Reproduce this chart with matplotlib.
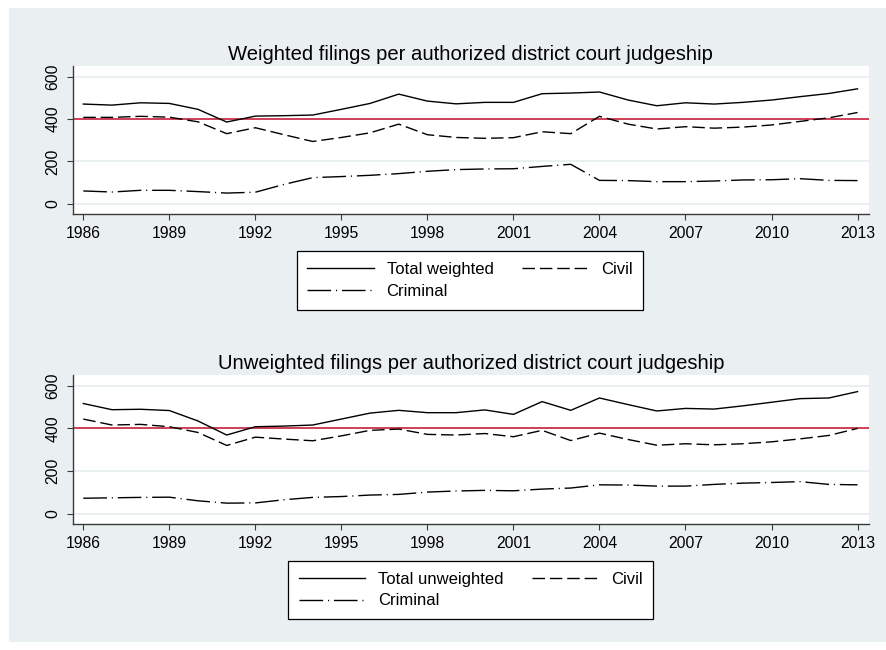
"""
Weighted and unweighted filings per authorized district court judgeship, 1986-2013.
"""

import matplotlib as mpl
import matplotlib.pyplot as plt
from matplotlib.patches import Rectangle

mpl.rcParams.update(
    {
        "font.family": ["Liberation Sans", "DejaVu Sans"],
        "font.size": 11,
        "axes.linewidth": 1.0,
        "xtick.major.size": 4,
        "ytick.major.size": 4,
        "xtick.direction": "out",
        "ytick.direction": "out",
    }
)

BG = "#EAF0F2"
GRID = "#E6EEF0"
AXIS = "#3A3A3A"
RED = "#C8102E"

years = list(range(1986, 2014))

# weighted filings per judgeship
total_weighted = [471, 466, 477, 474, 446, 386, 414, 416, 419, 446, 474, 518, 485, 472,
                  479, 479, 520, 523, 528, 490, 463, 477, 471, 479, 490, 506, 521, 543]
civil_weighted = [408, 408, 413, 409, 387, 331, 359, 326, 294, 313, 335, 376, 326, 313,
                  309, 312, 340, 331, 413, 376, 353, 364, 357, 362, 372, 389, 406, 431]
criminal_weighted = [60, 55, 63, 63, 57, 50, 54, 91, 123, 128, 134, 142, 153, 161,
                     164, 165, 176, 186, 110, 109, 104, 104, 107, 112, 113, 118, 110, 109]

# unweighted filings per judgeship
total_unweighted = [517, 488, 490, 484, 435, 369, 408, 411, 416, 444, 472, 485, 474, 474,
                    487, 466, 526, 485, 543, 512, 482, 494, 491, 506, 523, 540, 543, 573]
civil_unweighted = [444, 416, 419, 408, 381, 320, 359, 350, 342, 365, 391, 397, 372, 369,
                    376, 361, 391, 343, 378, 348, 321, 328, 323, 328, 337, 351, 367, 400]
criminal_unweighted = [72, 74, 76, 77, 60, 49, 50, 65, 76, 80, 87, 90, 101, 106,
                       109, 107, 115, 120, 135, 134, 129, 129, 137, 143, 146, 150, 137, 135]

benchmark = 400
x_ticks = list(range(1986, 2014, 3))
y_ticks = [0, 200, 400, 600]

DASHED = (0, (9, 3.5))
DASHDOT = (0, (17, 3.5, 0.8, 3.5))

W, H = 886, 650
fig = plt.figure(figsize=(W / 100, H / 100), dpi=100, facecolor="white")
fig.patches.append(
    Rectangle((9 / W, 1 - 642 / H), (W - 9) / W, (642 - 8) / H,
              transform=fig.transFigure, facecolor=BG, edgecolor="none", zorder=-5)
)


def draw_panel(rect, title, total, civil, criminal, total_label, legend_center):
    ax = fig.add_axes(rect)
    ax.set_facecolor("white")
    for y in y_ticks:
        ax.axhline(y, color=GRID, lw=1.2, zorder=1)
    l1, = ax.plot(years, total, color="black", lw=1.0, ls="-", zorder=3)
    l2, = ax.plot(years, civil, color="black", lw=1.0, ls=DASHED, zorder=3)
    l3, = ax.plot(years, criminal, color="black", lw=1.0, ls=DASHDOT, zorder=3)
    ax.axhline(benchmark, color=RED, lw=1.1, zorder=2)

    ax.set_xlim(1985.63, 2013.4)
    ax.set_ylim(-49, 651)
    ax.set_xticks(x_ticks)
    ax.set_yticks(y_ticks)
    for s in ["top", "right"]:
        ax.spines[s].set_visible(False)
    for s in ["left", "bottom"]:
        ax.spines[s].set_color(AXIS)
    ax.tick_params(colors=AXIS, labelcolor="black", labelsize=11.3)
    ax.tick_params(axis="x", pad=5)
    ax.tick_params(axis="y", pad=5)
    for lab in ax.get_yticklabels():
        lab.set_rotation(90)
        lab.set_va("center")
    ax.set_title(title, fontsize=14.6, pad=4)

    leg = fig.legend(
        [l1, l3, l2],
        [total_label, "Criminal", "Civil"],
        ncol=2,
        loc="center",
        bbox_to_anchor=(legend_center[0] / W, 1 - legend_center[1] / H),
        fontsize=12,
        handlelength=4.0,
        handletextpad=0.75,
        columnspacing=1.7,
        labelspacing=0.4,
        borderpad=0.65,
        fancybox=False,
        framealpha=1,
        edgecolor="black",
    )
    leg.get_frame().set_linewidth(0.9)
    return ax


draw_panel(
    [72.7 / W, 1 - 214 / H, (869 - 72.7) / W, 148 / H],
    "Weighted filings per authorized district court judgeship",
    total_weighted, civil_weighted, criminal_weighted,
    "Total weighted", (470, 280.5),
)
draw_panel(
    [72.7 / W, 1 - 524 / H, (869 - 72.7) / W, 149 / H],
    "Unweighted filings per authorized district court judgeship",
    total_unweighted, civil_unweighted, criminal_unweighted,
    "Total unweighted", (470.5, 590),
)

plt.savefig("out.png", dpi=100, facecolor="white")
